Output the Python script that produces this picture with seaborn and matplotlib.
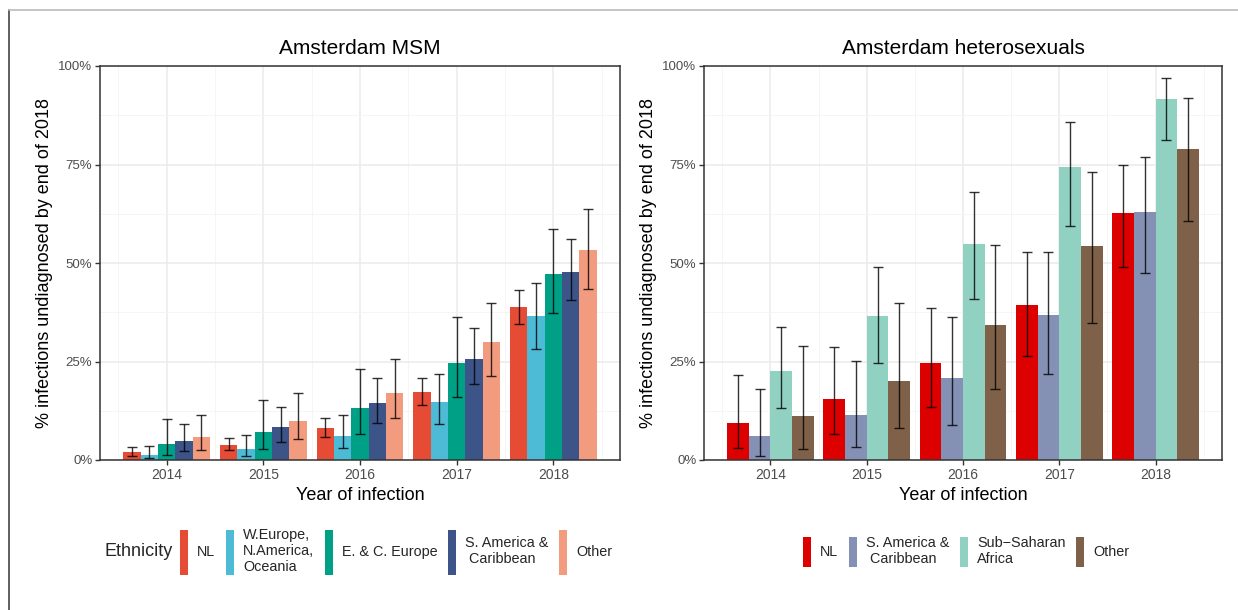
import numpy as np
import pandas as pd
import seaborn as sns
import matplotlib.pyplot as plt
import matplotlib.ticker as mtick
import matplotlib.patches as mpatches
from matplotlib.lines import Line2D

# ---- data -------------------------------------------------------------
years = ["2014", "2015", "2016", "2017", "2018"]

msm_groups = ["NL", "W.Europe,\nN.America,\nOceania", "E. & C. Europe",
              "S. America &\n Caribbean", "Other"]
msm_colors = ["#E64B35", "#4DBBD5", "#00A087", "#3C5488", "#F39B7F"]
# rows: ethnic group, columns: year of infection (% undiagnosed)
msm_est = [[2.0, 3.8, 8.1, 17.3, 38.9],
           [1.3, 2.8, 6.1, 14.8, 36.6],
           [4.1, 7.1, 13.2, 24.7, 47.3],
           [4.8, 8.4, 14.5, 25.7, 47.8],
           [5.9, 9.9, 17.0, 30.0, 53.4]]
msm_lo = [[1.1, 2.5, 5.9, 14.0, 34.6],
          [0.4, 0.9, 3.0, 9.2, 28.2],
          [1.2, 2.9, 6.7, 15.9, 37.2],
          [2.2, 4.6, 9.4, 19.4, 40.7],
          [2.5, 5.3, 10.7, 21.4, 43.4]]
msm_hi = [[3.2, 5.7, 10.6, 20.7, 43.2],
          [3.5, 6.3, 11.4, 21.9, 45.0],
          [10.3, 15.2, 23.1, 36.2, 58.6],
          [9.1, 13.5, 20.9, 33.4, 56.0],
          [11.4, 16.9, 25.7, 39.9, 63.7]]

het_groups = ["NL", "S. America &\n Caribbean", "Sub\u2212Saharan\nAfrica", "Other"]
het_colors = ["#DC0000", "#8491B4", "#91D1C2", "#7E6148"]
het_est = [[9.5, 15.4, 24.6, 39.3, 62.7],
           [6.0, 11.3, 20.7, 36.8, 63.0],
           [22.5, 36.5, 54.8, 74.4, 91.7],
           [11.1, 20.0, 34.2, 54.3, 79.0]]
het_lo = [[3.1, 6.7, 13.5, 26.3, 49.1],
          [1.1, 3.3, 9.0, 21.9, 47.4],
          [13.3, 24.7, 40.8, 59.4, 81.3],
          [2.8, 8.2, 18.0, 34.8, 60.7]]
het_hi = [[21.7, 28.6, 38.6, 52.8, 74.9],
          [18.0, 25.2, 36.2, 52.7, 76.8],
          [33.7, 49.0, 67.9, 85.7, 97.0],
          [29.0, 39.8, 54.6, 73.2, 91.9]]

ylabel = "% infections undiagnosed by end of 2018"
xlabel = "Year of infection"

# ---- style ------------------------------------------------------------
sns.set_theme(style="white")
plt.rcParams["font.family"] = ["Liberation Sans", "DejaVu Sans"]

W, H = 1238, 610
fig = plt.figure(figsize=(W / 100, H / 100), dpi=100)
fig.patch.set_facecolor("white")

ax_l = fig.add_axes([100 / W, 1 - 460 / H, 520 / W, 394 / H])
ax_r = fig.add_axes([704 / W, 1 - 460 / H, 518 / W, 394 / H])


def draw_panel(ax, groups, colors, est, lo, hi, title):
    df = pd.DataFrame({
        "year": np.tile(years, len(groups)),
        "group": np.repeat(groups, len(years)),
        "pct": np.ravel(est),
    })
    sns.barplot(data=df, x="year", y="pct", hue="group", order=years,
                hue_order=groups, palette=colors, width=0.9, gap=0,
                errorbar=None, linewidth=0, saturation=1, legend=False,
                ax=ax, zorder=2)
    for cont, e, l, h in zip(ax.containers, est, lo, hi):
        xs = [b.get_x() + b.get_width() / 2 for b in cont]
        e = np.asarray(e)
        ax.errorbar(xs, e, yerr=[e - np.asarray(l), np.asarray(h) - e],
                    fmt="none", ecolor="black", elinewidth=1.0,
                    capsize=3.6, capthick=1.0, alpha=0.8, zorder=3)

    ax.set_xlim(-0.69, len(years) - 1 + 0.69)
    ax.set_ylim(0, 100)
    ax.set_yticks([0, 25, 50, 75, 100])
    ax.set_yticks([12.5, 37.5, 62.5, 87.5], minor=True)
    ax.set_xticks(range(len(years)))
    ax.set_xticks(np.arange(-0.5, len(years), 1.0), minor=True)
    ax.set_xticklabels(years)
    ax.yaxis.set_major_formatter(mtick.FuncFormatter(lambda v, p: f"{v:.0f}%"))

    ax.set_axisbelow(True)
    ax.grid(which="major", color="#EBEBEB", linewidth=1.1)
    ax.grid(which="minor", color="#F4F4F4", linewidth=0.6)

    for sp in ax.spines.values():
        sp.set_visible(True)
        sp.set_color("#333333")
        sp.set_linewidth(1.1)

    ax.tick_params(which="major", direction="out", length=3.5, width=1.0,
                   color="#333333", labelcolor="#4D4D4D", pad=2,
                   left=True, bottom=True)
    ax.tick_params(axis="y", which="major", labelsize=9.5)
    ax.tick_params(axis="x", which="major", labelsize=10)
    ax.tick_params(which="minor", length=0)

    ax.set_title(title, fontsize=15, pad=9, color="black")
    ax.set_xlabel(xlabel, fontsize=13, labelpad=4, color="black")
    ax.set_ylabel(ylabel, fontsize=13, labelpad=4, color="black")


draw_panel(ax_l, msm_groups, msm_colors, msm_est, msm_lo, msm_hi, "Amsterdam MSM")
draw_panel(ax_r, het_groups, het_colors, het_est, het_lo, het_hi,
           "Amsterdam heterosexuals")

# ---- legends ----------------------------------------------------------
leg_y = 1 - 551.5 / H
leg_fs = 10.4
fig.text(105 / W, leg_y, "Ethnicity", fontsize=13, va="center", ha="left")

msm_handles = [mpatches.Patch(facecolor=c, edgecolor="none", linewidth=0)
               for c in msm_colors]
fig.legend(msm_handles, msm_groups, ncol=len(msm_groups), loc="center left",
           bbox_to_anchor=(180 / W, leg_y), frameon=False, fontsize=leg_fs,
           handlelength=0.55, handleheight=4.41, handletextpad=0.65,
           columnspacing=0.72, borderpad=0, borderaxespad=0)

het_handles = [mpatches.Patch(facecolor=c, edgecolor="none", linewidth=0)
               for c in het_colors]
fig.legend(het_handles, het_groups, ncol=len(het_groups), loc="center left",
           bbox_to_anchor=(803 / W, leg_y), frameon=False, fontsize=leg_fs,
           handlelength=0.55, handleheight=2.82, handletextpad=0.65,
           columnspacing=0.72, borderpad=0, borderaxespad=0)

# ---- outer frame ------------------------------------------------------
fig.add_artist(Line2D([8.5 / W, 8.5 / W], [0, 1 - 9.5 / H],
                      transform=fig.transFigure, color="#444444", linewidth=1.2))
fig.add_artist(Line2D([8.5 / W, 1], [1 - 9.5 / H, 1 - 9.5 / H],
                      transform=fig.transFigure, color="#BBBBBB", linewidth=1.2))

fig.savefig("out.png", dpi=100)
